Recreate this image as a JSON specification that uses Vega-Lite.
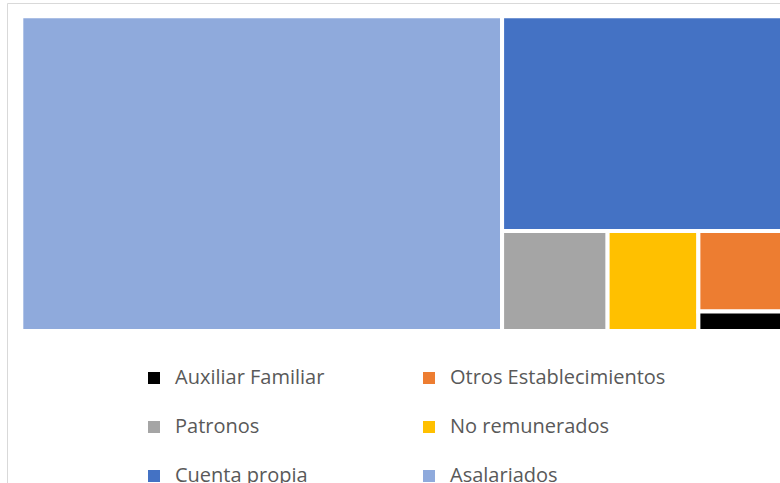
{
  "$schema": "https://vega.github.io/schema/vega-lite/v6.json",
  "width": 773,
  "height": 480,
  "autosize": {"type": "none"},
  "padding": {"left": 7, "top": 3, "right": 0, "bottom": 0},
  "background": "white",
  "config": {"view": {"stroke": "#d9d9d9", "strokeWidth": 1}},
  "data": {
    "values": [
      {"cat": "Asalariados", "value": 61.7, "band": "left", "col": 0, "pos": 1},
      {"cat": "Cuenta propia", "value": 26.0, "band": "top", "col": 0, "pos": 1},
      {"cat": "Patronos", "value": 4.3, "band": "bottom", "col": 1, "pos": 1},
      {"cat": "No remunerados", "value": 3.7, "band": "bottom", "col": 2, "pos": 1},
      {"cat": "Otros Establecimientos", "value": 3.3, "band": "bottom", "col": 3, "pos": 1},
      {"cat": "Auxiliar Familiar", "value": 0.8, "band": "bottom", "col": 3, "pos": 2}
    ]
  },
  "transform": [
    {"calculate": "datum.band === 'left' ? datum.value : 0", "as": "vL"},
    {"calculate": "datum.band === 'top' ? datum.value : 0", "as": "vT"},
    {"joinaggregate": [
      {"op": "sum", "field": "value", "as": "T"},
      {"op": "sum", "field": "vL", "as": "L"},
      {"op": "sum", "field": "vT", "as": "C"}
    ]},
    {"joinaggregate": [{"op": "sum", "field": "value", "as": "colSum"}], "groupby": ["band", "col"]},
    {"window": [{"op": "sum", "field": "value", "as": "colCum"}], "groupby": ["band"], "sort": [{"field": "col", "order": "ascending"}], "frame": [null, 0], "ignorePeers": false},
    {"window": [{"op": "sum", "field": "value", "as": "inCum"}], "groupby": ["band", "col"], "sort": [{"field": "pos", "order": "ascending"}], "frame": [null, 0]},
    {"calculate": "datum.L / datum.T", "as": "xs"},
    {"calculate": "datum.C / (datum.T - datum.L)", "as": "ht"},
    {"calculate": "datum.T - datum.L - datum.C", "as": "B"},
    {"calculate": "datum.band === 'left' ? 0 : datum.band === 'top' ? datum.xs : datum.xs + (datum.colCum - datum.colSum) / datum.B * (1 - datum.xs)", "as": "x0"},
    {"calculate": "datum.band === 'left' ? datum.xs : datum.band === 'top' ? 1 : datum.xs + datum.colCum / datum.B * (1 - datum.xs)", "as": "x1"},
    {"calculate": "datum.band === 'bottom' ? datum.ht + (datum.inCum - datum.value) / datum.colSum * (1 - datum.ht) : 0", "as": "y0"},
    {"calculate": "datum.band === 'left' ? 1 : datum.band === 'top' ? datum.ht : datum.ht + datum.inCum / datum.colSum * (1 - datum.ht)", "as": "y1"}
  ],
  "mark": {"type": "rect", "stroke": "white", "strokeWidth": 4, "clip": true},
  "encoding": {
    "x": {"field": "x0", "type": "quantitative", "axis": null, "scale": {"domain": [-0.0184, 0.9756], "nice": false, "zero": false}},
    "x2": {"field": "x1"},
    "y": {"field": "y0", "type": "quantitative", "axis": null, "scale": {"domain": [-0.0423, 1.483], "reverse": true, "nice": false, "zero": false}},
    "y2": {"field": "y1"},
    "color": {
      "field": "cat",
      "type": "nominal",
      "scale": {
        "domain": ["Auxiliar Familiar", "Patronos", "Cuenta propia", "Otros Establecimientos", "No remunerados", "Asalariados"],
        "range": ["#000000", "#A5A5A5", "#4472C4", "#ED7D31", "#FFC000", "#8FAADC"]
      },
      "legend": {
        "orient": "none",
        "legendX": 137,
        "legendY": 365,
        "columns": 2,
        "columnPadding": 94,
        "rowPadding": 29,
        "padding": 0,
        "title": null,
        "symbolType": "square",
        "symbolSize": 144,
        "symbolStrokeWidth": 0,
        "symbolOpacity": 1,
        "labelFont": "Open Sans",
        "labelFontSize": 20,
        "labelColor": "#595959",
        "labelOffset": 11,
        "labelLimit": 400
      }
    }
  }
}
